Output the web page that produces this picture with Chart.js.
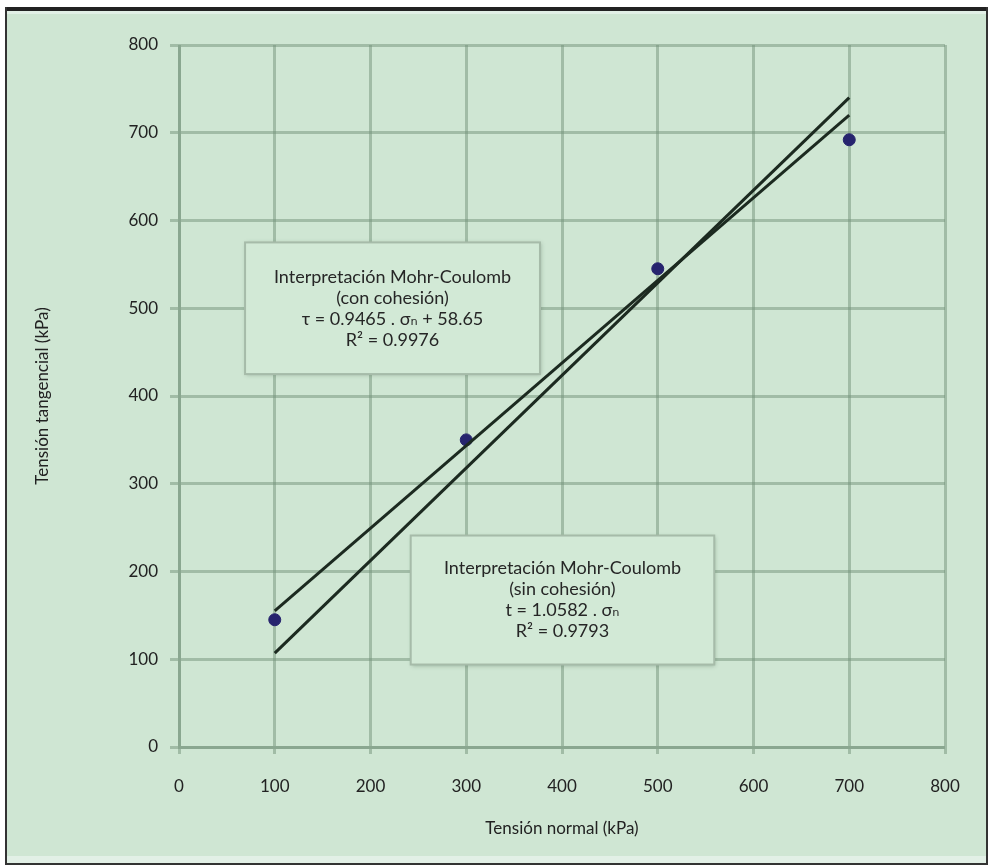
<!DOCTYPE html>
<html>
<head>
<meta charset="utf-8">
<script src="https://cdn.jsdelivr.net/npm/chart.js@4/dist/chart.umd.min.js"></script>
<style>
  body { margin: 0; background: #fff; }
  #wrap { position: absolute; left: 0; top: 0; width: 988px; height: 865px; }
</style>
</head>
<body>
<div id="wrap"><canvas id="chart" width="988" height="865"></canvas></div>
<script>
// datos
const tensionNormal = [100, 300, 500, 700];
const tensionTangencial = [145, 350, 545, 692];

// rectas de ajuste (extremos)
const ajusteX = [100, 700];
const conCohesionY = [155, 720];
const sinCohesionY = [107, 740];

const xTicks = [0, 100, 200, 300, 400, 500, 600, 700, 800];
const yTicks = [0, 100, 200, 300, 400, 500, 600, 700, 800];

const textoCon = ['Interpretación Mohr-Coulomb', '(con cohesión)', 'τ = 0.9465 . σₙ + 58.65', 'R² = 0.9976'];
const textoSin = ['Interpretación Mohr-Coulomb', '(sin cohesión)', 't = 1.0582 . σₙ', 'R² = 0.9793'];

const FONT = 'Lato, "DejaVu Sans", sans-serif';
const GRID = 'rgba(115,145,122,0.5)';

// recuadros de texto en coordenadas de datos
const cajas = [
  { x0: 69, x1: 377, y0: 575, y1: 425, lines: textoCon },
  { x0: 242, x1: 559, y0: 241, y1: 94, lines: textoSin }
];

const marco = {
  id: 'marco',
  beforeDraw(chart) {
    const c = chart.ctx;
    c.save();
    c.fillStyle = '#fff';
    c.fillRect(0, 0, 988, 865);
    c.fillStyle = '#cfe6d3';
    c.fillRect(5, 7, 982, 857);
    c.fillStyle = '#e2f0e6';
    c.fillRect(7, 11, 979, 3);
    c.fillRect(7, 856, 979, 7);
    c.fillStyle = '#222';
    c.fillRect(5, 7, 983, 4);
    c.fillStyle = '#333';
    c.fillRect(5, 7, 2, 858);
    c.fillRect(986, 7, 2, 858);
    c.fillRect(5, 863, 983, 2);
    c.restore();
  },
  beforeDatasetsDraw(chart) {
    const c = chart.ctx;
    const xs = chart.scales.x, ys = chart.scales.y;
    c.save();
    cajas.forEach(b => {
      const l = xs.getPixelForValue(b.x0), r = xs.getPixelForValue(b.x1);
      const t = ys.getPixelForValue(b.y0), bt = ys.getPixelForValue(b.y1);
      c.shadowColor = 'rgba(60,90,70,0.35)';
      c.shadowBlur = 4;
      c.shadowOffsetX = 1;
      c.shadowOffsetY = 1;
      c.fillStyle = '#d2e9d6';
      c.fillRect(l, t, r - l, bt - t);
      c.shadowColor = 'transparent';
      c.strokeStyle = '#a6bba9';
      c.lineWidth = 2;
      c.strokeRect(l, t, r - l, bt - t);
      c.fillStyle = '#262626';
      c.font = '18px ' + FONT;
      c.textAlign = 'center';
      c.textBaseline = 'middle';
      const cx = (l + r) / 2;
      const start = (t + bt) / 2 - 1.5 * 21;
      b.lines.forEach((s, i) => c.fillText(s, cx, start + i * 21));
    });
    c.restore();
  }
};

new Chart(document.getElementById('chart'), {
  type: 'scatter',
  data: {
    datasets: [
      {
        label: 'con cohesión',
        type: 'line',
        data: ajusteX.map((x, i) => ({ x: x, y: conCohesionY[i] })),
        borderColor: '#1c2a20',
        borderWidth: 3,
        pointRadius: 0,
        fill: false
      },
      {
        label: 'sin cohesión',
        type: 'line',
        data: ajusteX.map((x, i) => ({ x: x, y: sinCohesionY[i] })),
        borderColor: '#1c2a20',
        borderWidth: 3,
        pointRadius: 0,
        fill: false
      },
      {
        label: 'ensayos',
        data: tensionNormal.map((x, i) => ({ x: x, y: tensionTangencial[i] })),
        backgroundColor: '#26246e',
        borderColor: '#26246e',
        pointRadius: 6
      }
    ]
  },
  options: {
    responsive: false,
    animation: false,
    layout: { padding: { left: 0, top: 45, right: 43, bottom: 0 } },
    plugins: {
      legend: { display: false },
      tooltip: { enabled: false }
    },
    scales: {
      x: {
        type: 'linear',
        min: 0,
        max: 800,
        afterBuildTicks: s => { s.ticks = xTicks.map(v => ({ value: v })); },
        afterFit: s => { s.height = 118; },
        grid: { color: GRID, lineWidth: 3, tickLength: 7 },
        border: { color: GRID, width: 3 },
        ticks: { color: '#222', font: { family: FONT, size: 17 }, padding: 22 },
        title: {
          display: true,
          text: 'Tensión normal (kPa)',
          color: '#222',
          font: { family: FONT, size: 17 },
          padding: { top: 26, bottom: 26 }
        }
      },
      y: {
        type: 'linear',
        min: 0,
        max: 800,
        afterBuildTicks: s => { s.ticks = yTicks.map(v => ({ value: v })); },
        afterFit: s => { s.width = 179; },
        grid: { color: GRID, lineWidth: 3, tickLength: 9 },
        border: { color: GRID, width: 3 },
        ticks: { color: '#222', font: { family: FONT, size: 17 }, padding: 12 },
        title: {
          display: true,
          text: 'Tensión tangencial (kPa)',
          color: '#222',
          font: { family: FONT, size: 17 },
          padding: { top: 32, bottom: 0 }
        }
      }
    }
  },
  plugins: [marco]
});
</script>
</body>
</html>
